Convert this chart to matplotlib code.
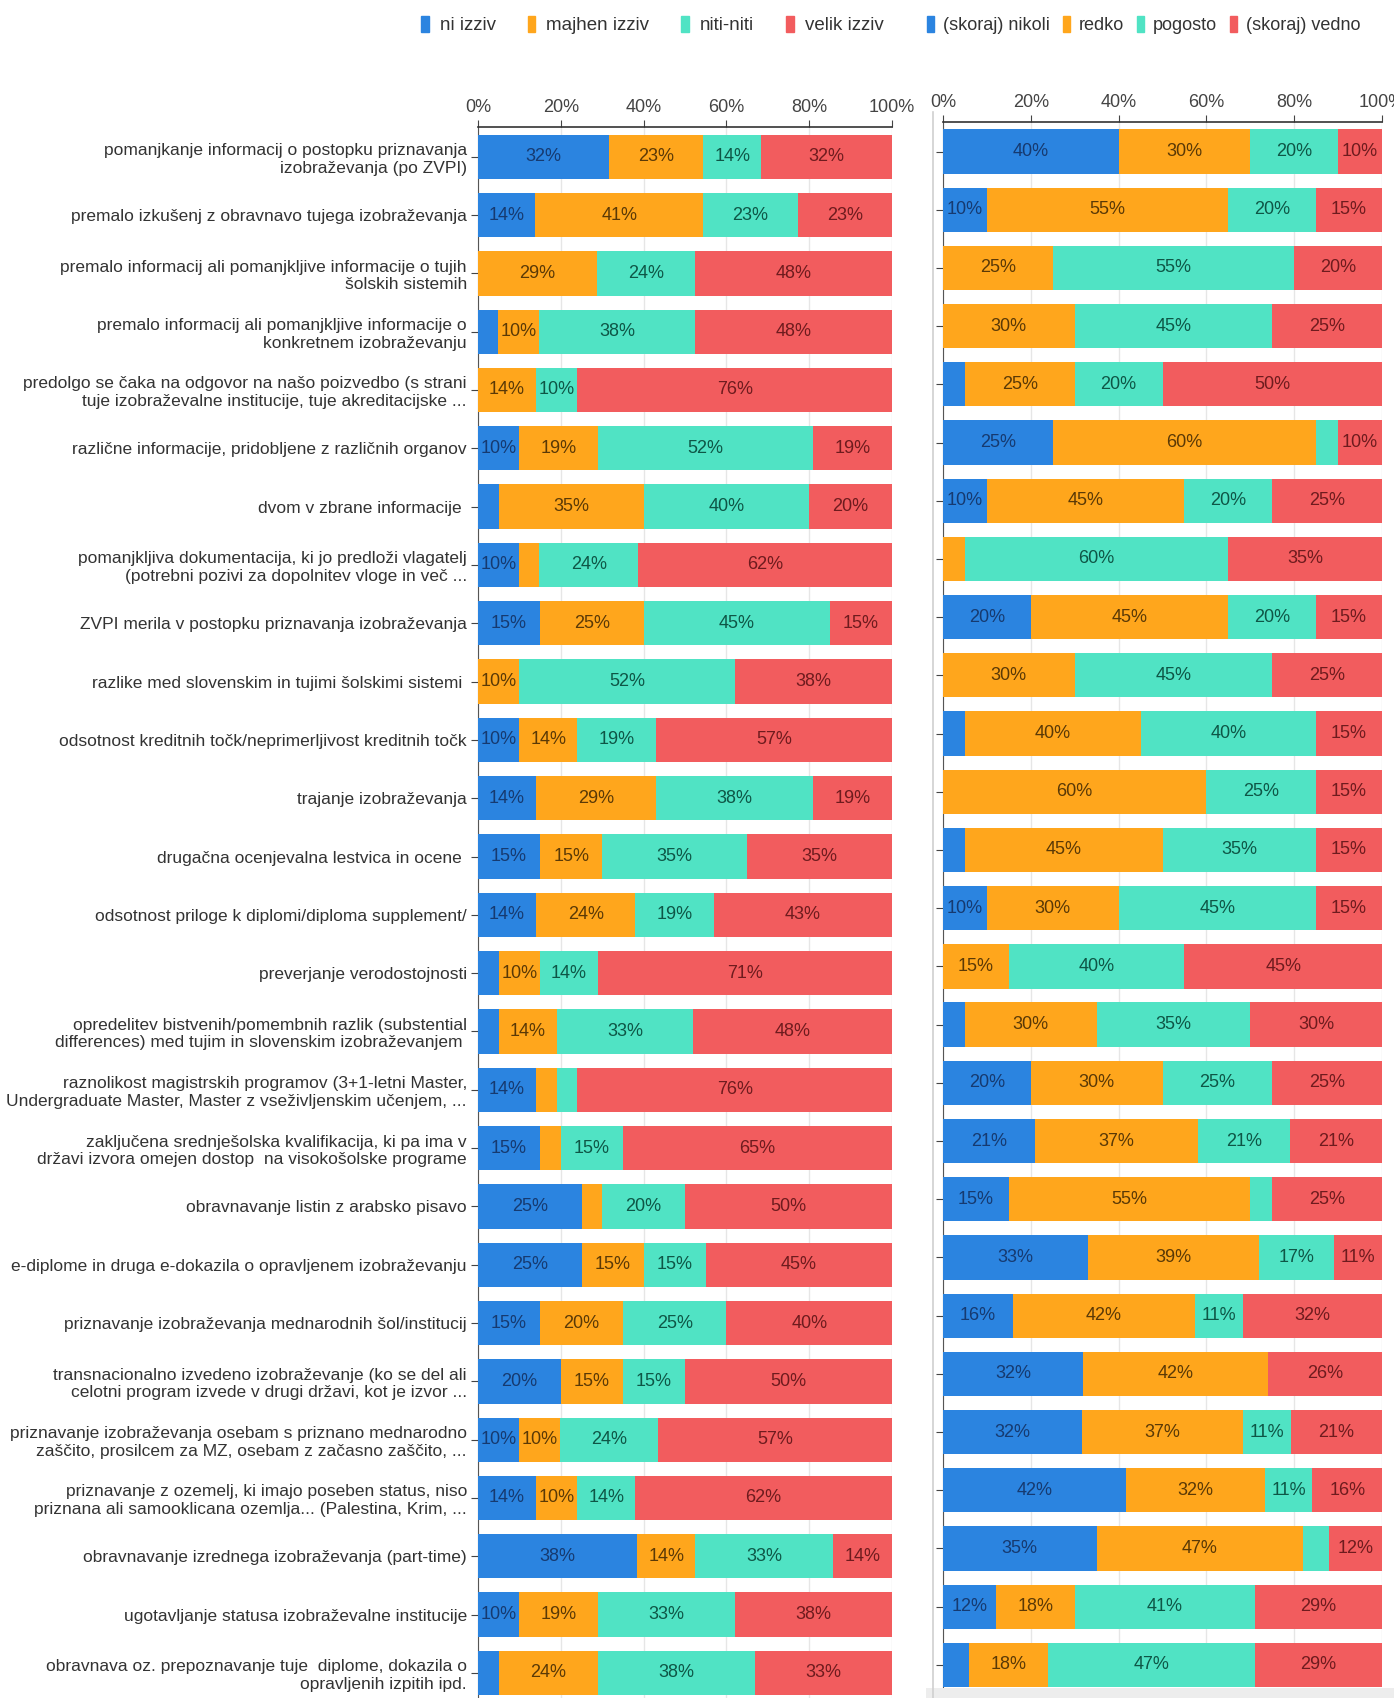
import numpy as np
import matplotlib
matplotlib.use("Agg")
import matplotlib.pyplot as plt
from matplotlib.patches import Patch

plt.rcParams['font.family'] = ['Liberation Sans', 'DejaVu Sans']

categories = [
    "pomanjkanje informacij o postopku priznavanja\nizobraževanja (po ZVPI)",
    "premalo izkušenj z obravnavo tujega izobraževanja",
    "premalo informacij ali pomanjkljive informacije o tujih\nšolskih sistemih",
    "premalo informacij ali pomanjkljive informacije o\nkonkretnem izobraževanju",
    "predolgo se čaka na odgovor na našo poizvedbo (s strani\ntuje izobraževalne institucije, tuje akreditacijske ...",
    "različne informacije, pridobljene z različnih organov",
    "dvom v zbrane informacije ",
    "pomanjkljiva dokumentacija, ki jo predloži vlagatelj\n(potrebni pozivi za dopolnitev vloge in več ...",
    "ZVPI merila v postopku priznavanja izobraževanja",
    "razlike med slovenskim in tujimi šolskimi sistemi ",
    "odsotnost kreditnih točk/neprimerljivost kreditnih točk",
    "trajanje izobraževanja",
    "drugačna ocenjevalna lestvica in ocene ",
    "odsotnost priloge k diplomi/diploma supplement/",
    "preverjanje verodostojnosti",
    "opredelitev bistvenih/pomembnih razlik (substential\ndifferences) med tujim in slovenskim izobraževanjem ",
    "raznolikost magistrskih programov (3+1-letni Master,\nUndergraduate Master, Master z vseživljenskim učenjem, ...",
    "zaključena srednješolska kvalifikacija, ki pa ima v\ndržavi izvora omejen dostop  na visokošolske programe",
    "obravnavanje listin z arabsko pisavo",
    "e-diplome in druga e-dokazila o opravljenem izobraževanju",
    "priznavanje izobraževanja mednarodnih šol/institucij",
    "transnacionalno izvedeno izobraževanje (ko se del ali\ncelotni program izvede v drugi državi, kot je izvor ...",
    "priznavanje izobraževanja osebam s priznano mednarodno\nzaščito, prosilcem za MZ, osebam z začasno zaščito, ...",
    "priznavanje z ozemelj, ki imajo poseben status, niso\npriznana ali samooklicana ozemlja... (Palestina, Krim, ...",
    "obravnavanje izrednega izobraževanja (part-time)",
    "ugotavljanje statusa izobraževalne institucije",
    "obravnava oz. prepoznavanje tuje  diplome, dokazila o\nopravljenih izpitih ipd.",
]

# left panel: challenge level
left_labels = ["ni izziv", "majhen izziv", "niti-niti", "velik izziv"]
left_ni = [32, 14, 0, 5, 0, 10, 5, 10, 15, 0, 10, 14, 15, 14, 5, 5, 14, 15, 25, 25, 15, 20, 10, 14, 38, 10, 5]
left_majhen = [23, 41, 29, 10, 14, 19, 35, 5, 25, 10, 14, 29, 15, 24, 10, 14, 5, 5, 5, 15, 20, 15, 10, 10, 14, 19, 24]
left_niti = [14, 23, 24, 38, 10, 52, 40, 24, 45, 52, 19, 38, 35, 19, 14, 33, 5, 15, 20, 15, 25, 15, 24, 14, 33, 33, 38]
left_velik = [32, 23, 48, 48, 76, 19, 20, 62, 15, 38, 57, 19, 35, 43, 71, 48, 76, 65, 50, 45, 40, 50, 57, 62, 14, 38, 33]

# right panel: frequency
right_labels = ["(skoraj) nikoli", "redko", "pogosto", "(skoraj) vedno"]
right_nikoli = [40, 10, 0, 0, 5, 25, 10, 0, 20, 0, 5, 0, 5, 10, 0, 5, 20, 21, 15, 33, 16, 32, 32, 42, 35, 12, 6]
right_redko = [30, 55, 25, 30, 25, 60, 45, 5, 45, 30, 40, 60, 45, 30, 15, 30, 30, 37, 55, 39, 42, 42, 37, 32, 47, 18, 18]
right_pogosto = [20, 20, 55, 45, 20, 5, 20, 60, 20, 45, 40, 25, 35, 45, 40, 35, 25, 21, 5, 17, 11, 0, 11, 11, 6, 41, 47]
right_vedno = [10, 15, 20, 25, 50, 10, 25, 35, 15, 25, 15, 15, 15, 15, 45, 30, 25, 21, 25, 11, 32, 26, 21, 16, 12, 29, 29]

colors = ['#2b84e0', '#ffa61c', '#50e3c4', '#f25c5e']
text_colors = ['#163a70', '#5a3906', '#0e5646', '#6e1b1e']

fig = plt.figure(figsize=(13.94, 16.98), dpi=100)
W, H = 1394, 1698


def draw_panel(ax, series, show_labels, ylim):
    data = np.array(series, dtype=float).T
    totals = data.sum(axis=1, keepdims=True)
    widths = data / totals * 100
    starts = np.cumsum(widths, axis=1) - widths
    y = np.arange(len(categories))
    for k in range(4):
        ax.barh(y, widths[:, k], left=starts[:, k], height=0.76,
                color=colors[k], zorder=3)
        for i in range(len(y)):
            v = data[i, k]
            if v >= 10:
                ax.text(starts[i, k] + widths[i, k] / 2, y[i], f"{int(v)}%",
                        ha='center', va='center', fontsize=13,
                        color=text_colors[k], zorder=4)
    ax.set_xlim(0, 100)
    ax.set_ylim(*ylim)
    ax.xaxis.tick_top()
    ax.set_xticks([0, 20, 40, 60, 80, 100])
    ax.set_xticklabels(["0%", "20%", "40%", "60%", "80%", "100%"])
    ax.tick_params(axis='x', labelsize=13, colors='#444444', length=5, pad=3)
    ax.tick_params(axis='y', length=5, color='#444444', labelsize=12.5,
                   labelcolor='#333333', pad=3)
    ax.set_yticks(y)
    if show_labels:
        ax.set_yticklabels(categories, linespacing=1.2)
    else:
        ax.set_yticklabels([])
    ax.grid(axis='x', color='#e6e6e6', linewidth=1, zorder=0)
    ax.set_axisbelow(True)
    for s in ['right', 'bottom']:
        ax.spines[s].set_visible(False)
    ax.spines['top'].set_color('#333333')
    ax.spines['top'].set_linewidth(1.2)
    ax.spines['left'].set_color('#555555')


# left panel
ax1 = fig.add_axes([478 / W, 0, (892 - 478) / W, (H - 127) / H])
draw_panel(ax1, [left_ni, left_majhen, left_niti, left_velik], True, (26.43, -0.51))

# right panel
ax2 = fig.add_axes([943 / W, 11 / H, (1382 - 943) / W, (1687 - 122) / H])
draw_panel(ax2, [right_nikoli, right_redko, right_pogosto, right_vedno], False, (26.38, -0.507))

# frame line of the right screenshot
fig.add_artist(plt.Line2D([933 / W, 933 / W], [0.0, 1 - 112 / H], color='#d0d0d0', lw=1.2))
fig.add_artist(plt.Rectangle((926 / W, 0), 1 - 926 / W, 10 / H, color='#ededed', lw=0))

h1 = [Patch(color=c) for c in colors]
fig.legend(h1, left_labels, loc='center left', bbox_to_anchor=(421 / W, 1 - 25 / H),
           ncol=4, frameon=False, fontsize=13.5, handlelength=0.4, handleheight=1.0,
           handletextpad=0.6, columnspacing=1.7, labelcolor='#333333',
           borderaxespad=0, borderpad=0)
fig.legend(h1, right_labels, loc='center left', bbox_to_anchor=(927 / W, 1 - 25 / H),
           ncol=4, frameon=False, fontsize=13, handlelength=0.4, handleheight=1.0,
           handletextpad=0.5, columnspacing=0.7, labelcolor='#333333',
           borderaxespad=0, borderpad=0)

fig.savefig("out.png", dpi=100, facecolor='white')
